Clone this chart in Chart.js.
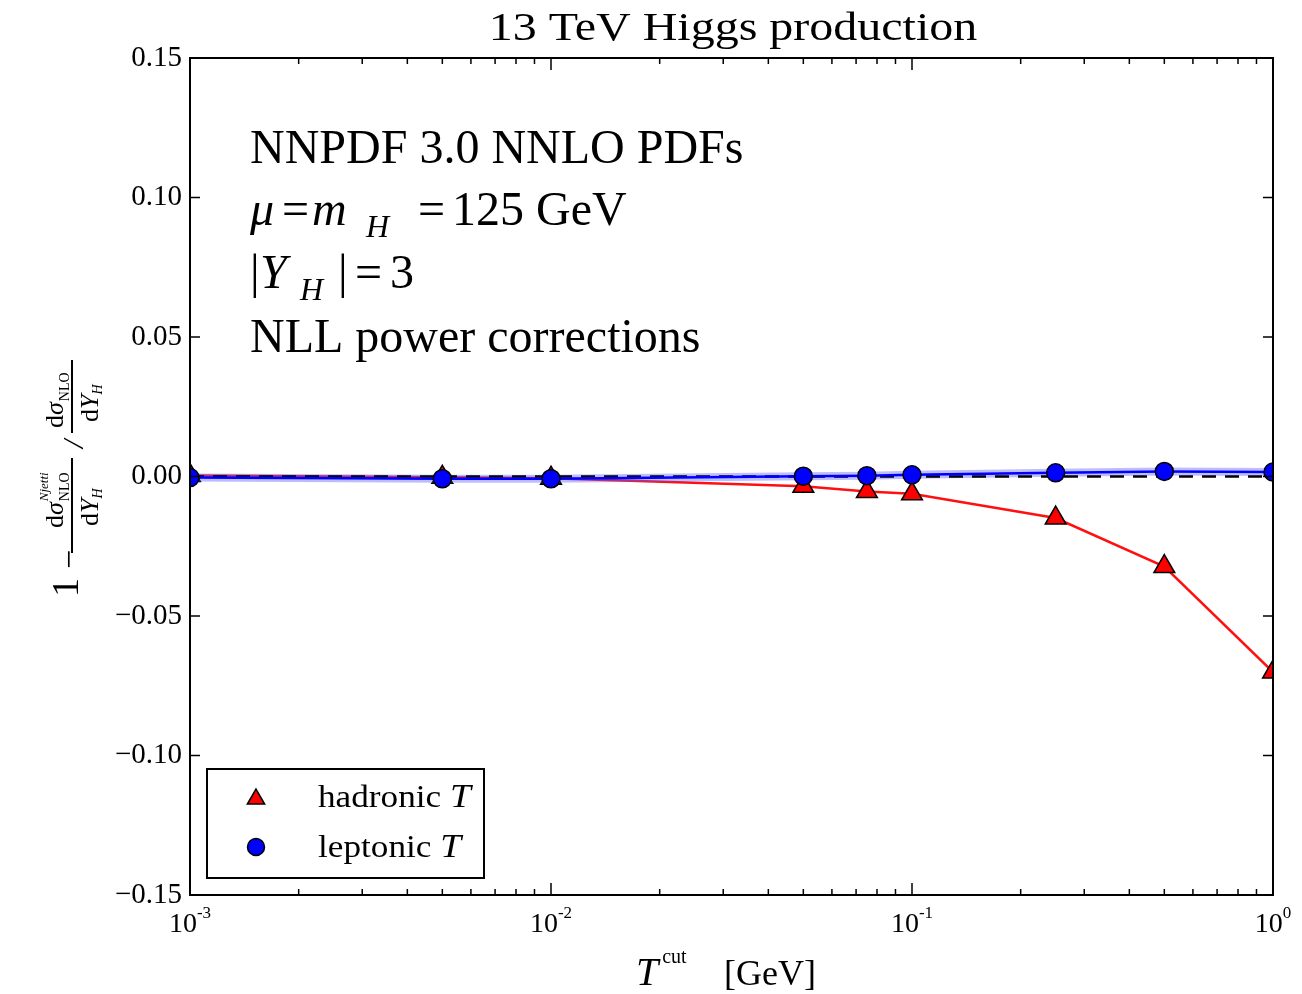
<!DOCTYPE html>
<html>
<head>
<meta charset="utf-8">
<script src="https://cdn.jsdelivr.net/npm/chart.js@4.4.1/dist/chart.umd.min.js"></script>
<style>
  html, body { margin: 0; padding: 0; background: #fff; }
  #wrap { width: 1302px; height: 994px; }
</style>
</head>
<body>
<div id="wrap"><canvas id="graficoTau"></canvas></div>
<script>
// valores
const tauCut = [0.001, 0.005, 0.01, 0.05, 0.075, 0.1, 0.25, 0.5, 1.0];
const hadronic = [0.0004, -0.0003, -0.0006, -0.0035, -0.0054, -0.0062, -0.0149, -0.0323, -0.0701];
const leptonic = [-0.0004, -0.0008, -0.0008, 0.0001, 0.0003, 0.0006, 0.0013, 0.0018, 0.0016];
const zeroX = [0.001, 1];
const zeroY = [0, 0];
const yTicks = [-0.15, -0.10, -0.05, 0.00, 0.05, 0.10, 0.15];
const xMajor = [0.001, 0.01, 0.1, 1];
const xExp = ['-3', '-2', '-1', '0'];

const serif = '"Liberation Serif", "Times New Roman", serif';

function pts(xs, ys) {
  return xs.map((x, i) => ({ x: x, y: ys[i] }));
}

function put(ctx, s, x, y, size, style, align) {
  ctx.font = (style || '') + ' ' + size + 'px ' + serif;
  ctx.textAlign = align || 'left';
  ctx.textBaseline = 'alphabetic';
  ctx.fillText(s, x, y);
  return x + ctx.measureText(s).width;
}

const decor = {
  id: 'decor',
  afterDraw(chart) {
    const ctx = chart.ctx;
    const a = chart.chartArea;
    const xs = chart.scales.x;
    const ys = chart.scales.y;
    ctx.save();
    ctx.fillStyle = '#000';
    ctx.strokeStyle = '#000';

    // moldura
    ctx.lineWidth = 2;
    ctx.strokeRect(a.left, a.top, a.right - a.left, a.bottom - a.top);

    // ticks para dentro
    ctx.lineWidth = 1.5;
    ctx.beginPath();
    yTicks.forEach(v => {
      const py = ys.getPixelForValue(v);
      ctx.moveTo(a.left, py); ctx.lineTo(a.left + 10, py);
      ctx.moveTo(a.right, py); ctx.lineTo(a.right - 10, py);
    });
    xMajor.forEach((d, i) => {
      const px = xs.getPixelForValue(d);
      ctx.moveTo(px, a.bottom); ctx.lineTo(px, a.bottom - 12);
      ctx.moveTo(px, a.top); ctx.lineTo(px, a.top + 12);
      if (i < xMajor.length - 1) {
        for (let k = 2; k <= 9; k++) {
          const mx = xs.getPixelForValue(d * k);
          ctx.moveTo(mx, a.bottom); ctx.lineTo(mx, a.bottom - 6);
          ctx.moveTo(mx, a.top); ctx.lineTo(mx, a.top + 6);
        }
      }
    });
    ctx.stroke();

    // rótulos do eixo x (10^n)
    xMajor.forEach((d, i) => {
      const px = xs.getPixelForValue(d);
      ctx.font = '28px ' + serif;
      const w1 = ctx.measureText('10').width;
      ctx.font = '17px ' + serif;
      const w2 = ctx.measureText(xExp[i]).width;
      const x0 = px - (w1 + w2) / 2;
      const e = put(ctx, '10', x0, 932, 28);
      put(ctx, xExp[i], e, 918, 17);
    });

    // título
    ctx.save();
    ctx.translate(733, 40);
    ctx.scale(1.2, 1);
    put(ctx, '13 TeV Higgs production', 0, 0, 40, '', 'center');
    ctx.restore();

    // título do eixo x
    let x = put(ctx, 'T', 636, 985, 40, 'italic');
    put(ctx, 'cut', x + 4, 963, 20);
    put(ctx, '[GeV]', 724, 985, 36);

    // título do eixo y
    ctx.save();
    ctx.translate(73, 476);
    ctx.rotate(-Math.PI / 2);
    put(ctx, '1', -121, 5, 38);
    put(ctx, '−', -93, 7, 34);
    ctx.fillRect(-77, -2, 95, 2);
    x = put(ctx, 'd', -52, -10, 26);
    x = put(ctx, 'σ', x, -10, 26, 'italic');
    put(ctx, 'Njetti', x + 1, -25, 13, 'italic');
    put(ctx, 'NLO', x + 1, -4, 14);
    x = put(ctx, 'd', -50, 25, 26);
    x = put(ctx, 'Y', x, 25, 26, 'italic');
    put(ctx, 'H', x, 29, 14, 'italic');
    put(ctx, '/', 28, 10, 30, 'italic');
    ctx.fillRect(43, -2, 73, 2);
    x = put(ctx, 'd', 48, -10, 26);
    x = put(ctx, 'σ', x, -10, 26, 'italic');
    put(ctx, 'NLO', x + 1, -4, 14);
    x = put(ctx, 'd', 54, 25, 26);
    x = put(ctx, 'Y', x, 25, 26, 'italic');
    put(ctx, 'H', x, 29, 14, 'italic');
    ctx.restore();

    // anotações
    put(ctx, 'NNPDF 3.0 NNLO PDFs', 250, 163, 48);
    put(ctx, 'μ', 250, 225, 48, 'italic');
    put(ctx, '=', 282, 225, 48);
    put(ctx, 'm', 312, 225, 48, 'italic');
    put(ctx, 'H', 366, 237, 32, 'italic');
    put(ctx, '=', 418, 225, 48);
    put(ctx, '125 GeV', 452, 225, 48);
    put(ctx, '|', 250, 288, 48);
    put(ctx, 'Y', 260, 288, 48, 'italic');
    put(ctx, 'H', 300, 300, 32, 'italic');
    put(ctx, '|', 338, 288, 48);
    put(ctx, '=', 355, 288, 48);
    put(ctx, '3', 390, 288, 48);
    put(ctx, 'NLL power corrections', 250, 352, 48);

    // legenda
    ctx.fillStyle = '#fff';
    ctx.fillRect(207, 769, 277, 109);
    ctx.lineWidth = 2;
    ctx.strokeRect(207, 769, 277, 109);
    ctx.lineWidth = 1.5;
    ctx.fillStyle = '#ff0000';
    Chart.helpers.drawPoint(ctx, { pointStyle: 'triangle', radius: 10, rotation: 0, borderWidth: 1.5 }, 256, 799);
    ctx.fillStyle = '#0000ff';
    Chart.helpers.drawPoint(ctx, { pointStyle: 'circle', radius: 8.5, rotation: 0, borderWidth: 1.5 }, 256, 847);
    ctx.fillStyle = '#000';
    ctx.save();
    ctx.translate(318, 807);
    ctx.scale(1.1, 1);
    x = put(ctx, 'hadronic ', 0, 0, 32);
    put(ctx, 'T', x, 0, 34, 'italic');
    x = put(ctx, 'leptonic ', 0, 50, 32);
    put(ctx, 'T', x, 50, 34, 'italic');
    ctx.restore();

    ctx.restore();
  }
};

const ctx = document.getElementById('graficoTau').getContext('2d');

const graficoTau = new Chart(ctx, {
  type: 'line',
  data: {
    datasets: [
      {
        label: 'leptonic',
        data: pts(tauCut, leptonic),
        borderColor: '#0000ff',
        backgroundColor: '#0000ff',
        borderWidth: 2.5,
        pointStyle: 'circle',
        pointRadius: 9,
        pointBorderColor: '#000',
        pointBorderWidth: 1.5,
        pointBackgroundColor: '#0000ff',
        clip: 0,
        order: 1
      },
      {
        label: 'zero',
        data: pts(zeroX, zeroY),
        borderColor: '#000',
        borderWidth: 2.5,
        borderDash: [14, 9],
        pointRadius: 0,
        clip: 0,
        order: 2
      },
      {
        label: 'leptonic band',
        data: pts(tauCut, leptonic),
        borderColor: 'rgba(90, 90, 255, 0.4)',
        borderWidth: 8,
        pointRadius: 0,
        clip: 0,
        order: 3
      },
      {
        label: 'hadronic',
        data: pts(tauCut, hadronic),
        borderColor: '#ff1010',
        backgroundColor: '#ff0000',
        borderWidth: 2.5,
        pointStyle: 'triangle',
        pointRadius: 12,
        pointBorderColor: '#000',
        pointBorderWidth: 1.5,
        pointBackgroundColor: '#ff0000',
        clip: 0,
        order: 4
      }
    ]
  },
  options: {
    responsive: true,
    maintainAspectRatio: false,
    devicePixelRatio: 1,
    animation: false,
    layout: { padding: { top: 58, right: 29, left: 0, bottom: 0 } },
    plugins: {
      legend: { display: false },
      tooltip: { enabled: false }
    },
    scales: {
      x: {
        type: 'logarithmic',
        min: 0.001,
        max: 1,
        afterFit: s => { s.height = 99; },
        ticks: { display: false },
        grid: { display: false, drawTicks: false },
        border: { display: false }
      },
      y: {
        min: -0.15,
        max: 0.15,
        afterBuildTicks: s => { s.ticks = yTicks.map(v => ({ value: v })); },
        afterFit: s => { s.width = 190; },
        ticks: {
          callback: v => (v < -1e-9 ? '−' : '') + Math.abs(v).toFixed(2),
          font: { family: serif, size: 29 },
          color: '#000',
          padding: 8
        },
        grid: { display: false, drawTicks: false },
        border: { display: false }
      }
    }
  },
  plugins: [decor]
});
</script>
</body>
</html>
